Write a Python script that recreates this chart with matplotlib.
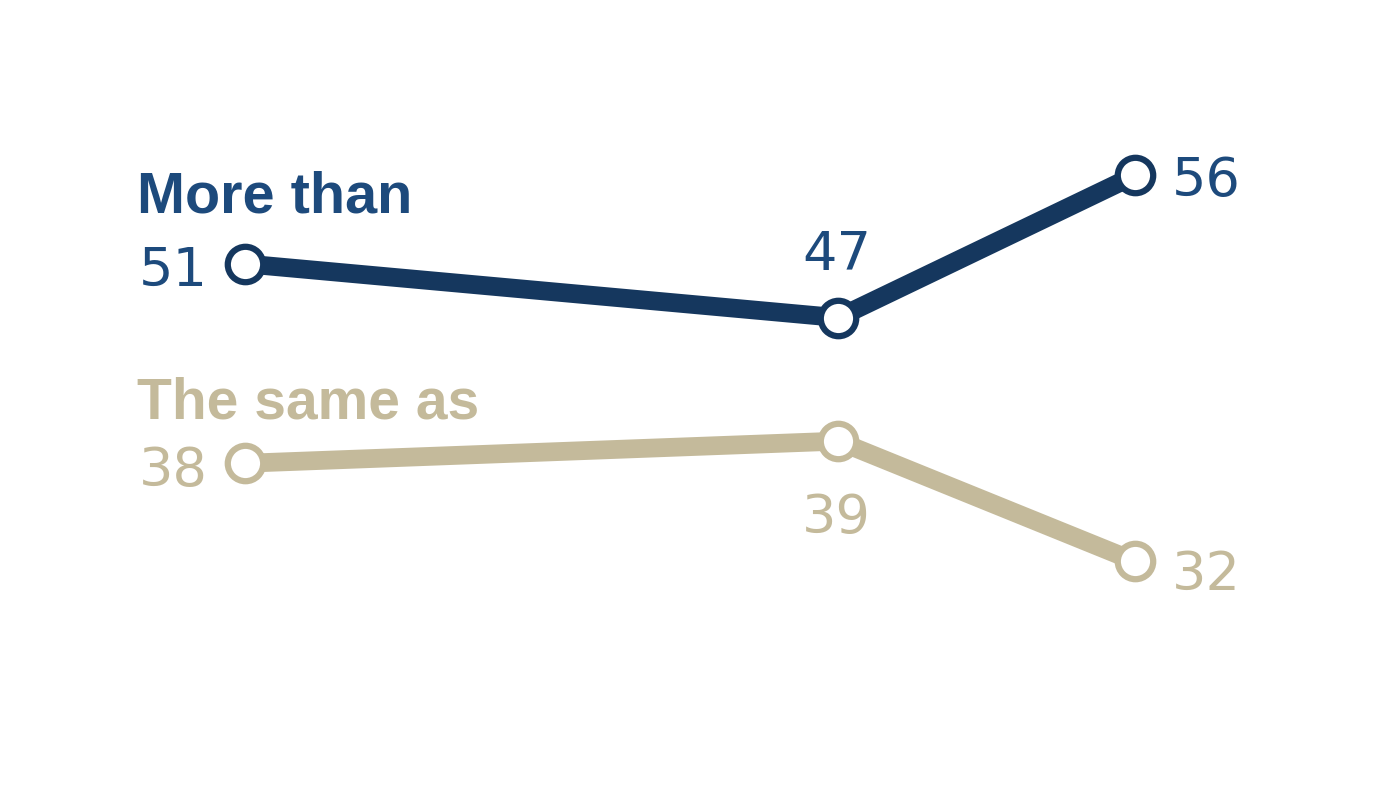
import matplotlib
matplotlib.use("Agg")
import matplotlib.pyplot as plt

# Data (positions; labels are the rounded values)
x_pos = [0, 2, 3]
more_than = [50.6, 47.2, 56.2]
same_as = [38.0, 39.4, 31.8]
series_names = ["More than", "The same as"]

NAVY_LINE = "#15375e"
NAVY_TEXT = "#1d4a7c"
BEIGE = "#c4ba9b"

plt.rcParams['font.family'] = ['Liberation Sans', 'DejaVu Sans']

fig = plt.figure(figsize=(14, 7.89), dpi=100)
ax = fig.add_axes([0, 0, 1, 1])
ax.set_xlim(-0.826, 3.893)
ax.set_ylim(17.42, 67.27)
ax.axis("off")

for vals, lc in [(more_than, NAVY_LINE), (same_as, BEIGE)]:
    ax.plot(x_pos, vals, color=lc, lw=13.5, solid_capstyle="round", zorder=2,
            marker="o", ms=25.5, mfc="white", mec=lc, mew=4.5)

fs = 39
num_font = dict(fontsize=fs, family=["DejaVu Sans"], fontweight="normal")

def label(val, x, y, dx, dy, ha, color):
    ax.annotate(f"{val:.0f}", (x, y), xytext=(dx, dy), textcoords="offset pixels",
                ha=ha, va="center_baseline", color=color, **num_font)

# value labels: more than
label(more_than[0], x_pos[0], more_than[0], -37, -2, "right", NAVY_TEXT)
label(more_than[1], x_pos[1], more_than[1], -2, 68, "center", NAVY_TEXT)
label(more_than[2], x_pos[2], more_than[2], 37, 0, "left", NAVY_TEXT)
# value labels: same as
label(same_as[0], x_pos[0], same_as[0], -37, -2, "right", BEIGE)
label(same_as[1], x_pos[1], same_as[1], -2, -71, "center", BEIGE)
label(same_as[2], x_pos[2], same_as[2], 37, -8, "left", BEIGE)

# series names
ax.annotate(series_names[0], (x_pos[0], more_than[0]), xytext=(-108, 51),
            textcoords="offset pixels", ha="left", va="baseline", fontsize=41.5,
            fontweight="bold", color=NAVY_TEXT)
ax.annotate(series_names[1], (x_pos[0], same_as[0]), xytext=(-108, 45),
            textcoords="offset pixels", ha="left", va="baseline", fontsize=41,
            fontweight="bold", color=BEIGE)

fig.savefig("out.png", dpi=100)
